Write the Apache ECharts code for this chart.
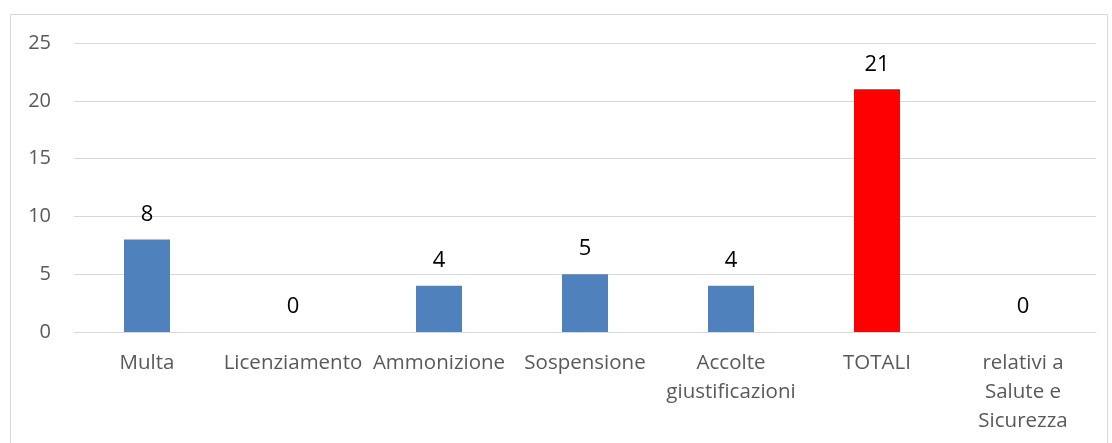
<!DOCTYPE html>
<html>
<head>
<meta charset="utf-8">
<script src="https://cdn.jsdelivr.net/npm/echarts@6/dist/echarts.min.js"></script>
<style>
  html, body { margin: 0; padding: 0; background: #fff; }
  #chart { width: 1112px; height: 443px; }
</style>
</head>
<body>
<div id="chart"></div>
<script>
  const categories = ['Multa', 'Licenziamento', 'Ammonizione', 'Sospensione',
    'Accolte\ngiustificazioni', 'TOTALI', 'relativi a\nSalute e\nSicurezza'];
  const values = [8, 0, 4, 5, 4, 21, 0];
  const yTicks = [0, 5, 10, 15, 20, 25];

  const chart = echarts.init(document.getElementById('chart'));
  chart.setOption({
    animation: false,
    textStyle: { fontFamily: '"Open Sans", "Liberation Sans", sans-serif' },
    graphic: [{
      type: 'rect',
      shape: { x: 10.5, y: 14.5, width: 1097, height: 440 },
      style: { fill: 'none', stroke: '#d9d9d9', lineWidth: 1 },
      silent: true
    }],
    grid: { left: 74, right: 16, top: 43, bottom: 111 },
    xAxis: {
      type: 'category',
      data: categories,
      axisLine: { lineStyle: { color: '#d9d9d9' } },
      axisTick: { show: false },
      axisLabel: {
        color: '#595959', fontSize: 20.5, margin: 17, lineHeight: 29, interval: 0
      }
    },
    yAxis: {
      type: 'value',
      min: yTicks[0],
      max: yTicks[yTicks.length - 1],
      interval: 5,
      axisLine: { show: false },
      axisTick: { show: false },
      axisLabel: { color: '#595959', fontSize: 20, margin: 23 },
      splitLine: { lineStyle: { color: '#d9d9d9' } }
    },
    series: [{
      type: 'bar',
      data: values,
      barWidth: 46,
      itemStyle: {
        color: p => p.name === 'TOTALI' ? '#ff0000' : '#4f81bd'
      },
      label: {
        show: true,
        position: 'top',
        distance: 14,
        color: '#000',
        fontSize: 22
      }
    }]
  });
</script>
</body>
</html>
